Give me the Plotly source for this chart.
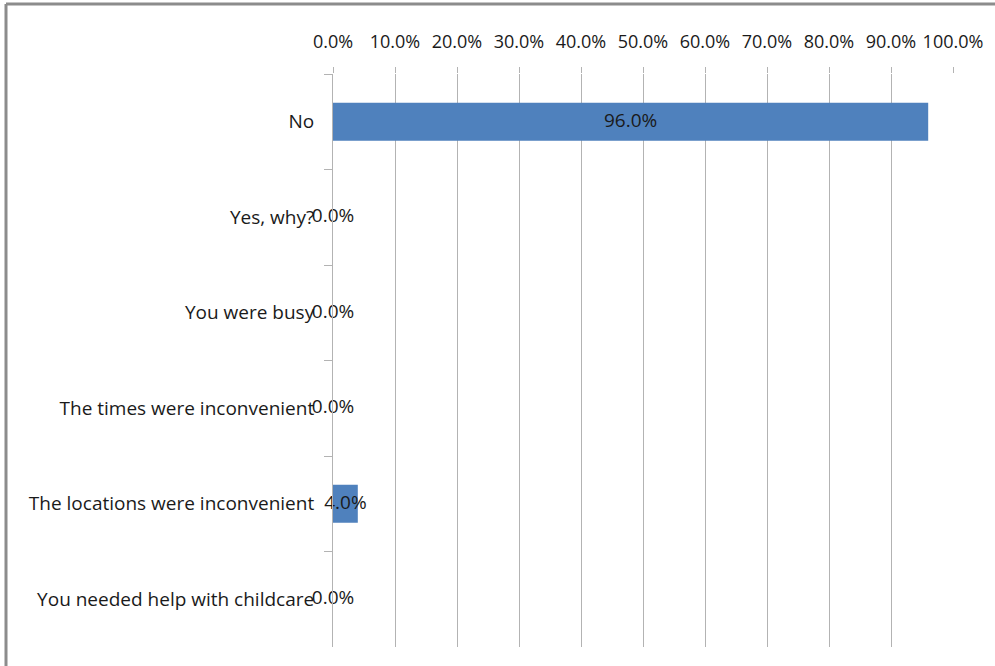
import plotly.graph_objects as go

# Survey responses and their share of respondents
categories = [
    "No",
    "Yes, why?",
    "You were busy",
    "The times were inconvenient",
    "The locations were inconvenient",
    "You needed help with childcare",
]
shares = [0.96, 0.0, 0.0, 0.0, 0.04, 0.0]
x_ticks = [i / 10 for i in range(11)]

W, H = 995, 666
L, R, T, B = 333, 42, 74, 19
plot_w = W - L - R
plot_h = H - T - B

font = "Open Sans, Liberation Sans, sans-serif"
bar_color = "#4f81bd"
grid_color = "#b3b3b3"
text_color = "#1a1a1a"

fig = go.Figure()
fig.add_trace(go.Bar(
    y=categories,
    x=shares,
    orientation="h",
    marker=dict(color=bar_color, line=dict(width=0)),
    width=0.4,
    hoverinfo="skip",
))
# Value labels centred on each bar (also visible for zero-length bars)
fig.add_trace(go.Scatter(
    y=categories,
    x=[v / 2 for v in shares],
    mode="text",
    text=[f"{v * 100:.1f}%" for v in shares],
    textposition="middle center",
    textfont=dict(family=font, size=19, color=text_color),
    hoverinfo="skip",
    cliponaxis=False,
))


def px_x(p):
    return (p - L) / plot_w


def px_y(p):
    return (H - B - p) / plot_h


# Outer chart frame (top and left edges)
frame = dict(type="line", xref="paper", yref="paper", line=dict(color="#8c8c8c", width=3))
fig.add_shape(**frame, x0=px_x(6), x1=px_x(W + 10), y0=px_y(4), y1=px_y(4))
fig.add_shape(**frame, x0=px_x(6), x1=px_x(6), y0=px_y(4), y1=px_y(H + 10))

fig.update_layout(
    width=W,
    height=H,
    margin=dict(l=L, r=R, t=T, b=B, pad=0),
    paper_bgcolor="white",
    plot_bgcolor="white",
    showlegend=False,
    bargap=0.6,
    font=dict(family=font, size=18, color=text_color),
    xaxis=dict(
        side="top",
        range=[0, 1],
        tickvals=x_ticks,
        tickformat=".1%",
        ticks="outside",
        ticklen=6,
        tickcolor=grid_color,
        showgrid=True,
        gridcolor=grid_color,
        gridwidth=1,
        showline=False,
        zeroline=False,
        tickfont=dict(family=font, size=18, color=text_color),
        ticklabelstandoff=12,
        fixedrange=True,
    ),
    yaxis=dict(
        type="category",
        categoryorder="array",
        categoryarray=categories,
        autorange="reversed",
        tickson="boundaries",
        ticks="outside",
        ticklen=8,
        tickcolor=grid_color,
        showline=True,
        linecolor=grid_color,
        linewidth=1,
        showgrid=False,
        zeroline=False,
        tickfont=dict(family=font, size=19, color=text_color),
        ticklabelstandoff=14,
        fixedrange=True,
    ),
)

fig.write_html("out.html")
